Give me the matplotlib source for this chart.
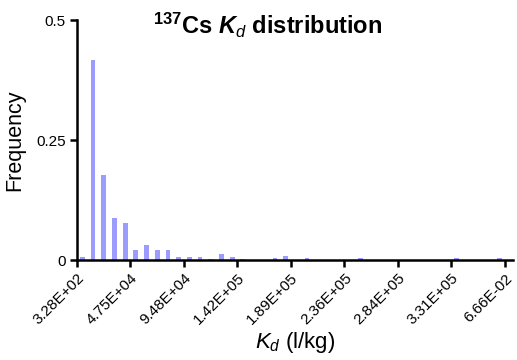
import matplotlib.pyplot as plt

plt.rcParams['font.family'] = ['Liberation Sans', 'DejaVu Sans']
plt.rcParams['mathtext.fontset'] = 'custom'
plt.rcParams['mathtext.rm'] = 'Liberation Sans'
plt.rcParams['mathtext.it'] = 'Liberation Sans:italic'
plt.rcParams['mathtext.bf'] = 'Liberation Sans:bold'
plt.rcParams['mathtext.bfit'] = 'Liberation Sans:bold:italic'

# Frequency of each Kd bin (41 bins, mostly empty towards the high end)
freq = [0.007, 0.417, 0.178, 0.088, 0.078, 0.0215, 0.032, 0.0215, 0.0215, 0.007,
        0.007, 0.007, 0.003, 0.013, 0.007, 0.003, 0, 0, 0.004, 0.008,
        0, 0.004, 0, 0, 0, 0, 0.004, 0, 0, 0,
        0, 0, 0, 0, 0, 0.004, 0, 0, 0, 0.004, 0]
tick_labels = ['3.28E+02', '4.75E+04', '9.48E+04', '1.42E+05', '1.89E+05',
               '2.36E+05', '2.84E+05', '3.31E+05', '6.66E-02']
y_ticks = [0, 0.25, 0.5]
y_tick_labels = ['0', '0.25', '0.5']

fig = plt.figure(figsize=(5.17, 3.6), dpi=100)
ax = fig.add_axes([77 / 517, 1 - 260 / 360, (513 - 77) / 517, 240 / 360])

centers = [i + 0.5 for i in range(len(freq))]
ax.bar(centers, freq, width=0.45, color='#9c9cff', linewidth=0)

ax.set_xlim(0, 40.75)
ax.set_ylim(0, 0.5)
ax.set_xticks(range(0, 41, 5))
ax.set_xticklabels(tick_labels, rotation=45, ha='right', rotation_mode='anchor', fontsize=11)
ax.set_yticks(y_ticks)
ax.set_yticklabels(y_tick_labels, fontsize=11)

for side in ['top', 'right']:
    ax.spines[side].set_visible(False)
for side in ['left', 'bottom']:
    ax.spines[side].set_linewidth(1.8)
ax.tick_params(direction='out', length=5, width=1.8, pad=3)

ax.set_ylabel('Frequency', fontsize=15.5, labelpad=8)
ax.set_xlabel(r'$\mathit{K}_{\mathit{d}}$ (l/kg)', fontsize=16, labelpad=2)

fig.text(268 / 517, 1 - 25 / 360,
         r'$^{\mathbf{137}}$Cs $\mathbfit{K}_{\mathit{d}}$ distribution',
         ha='center', va='center', fontsize=17, fontweight='bold')

fig.savefig('out.png', dpi=100)
